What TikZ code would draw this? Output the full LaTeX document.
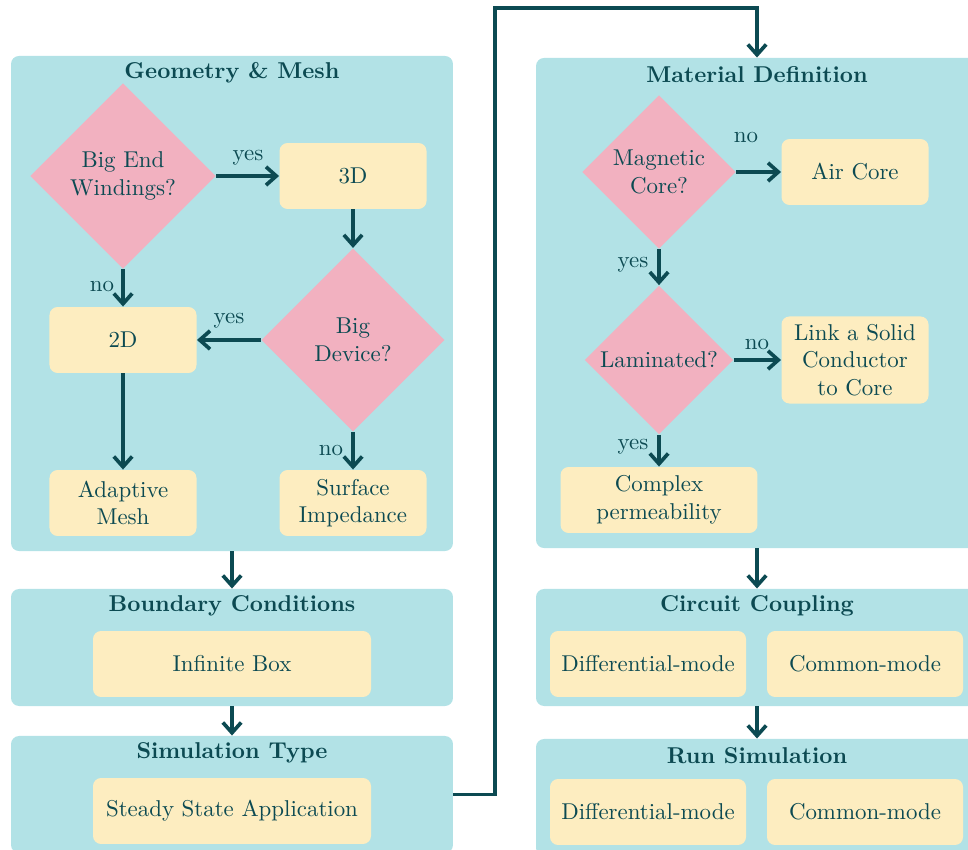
\documentclass[tikz,border=0pt]{standalone}
\usetikzlibrary{shapes.geometric,arrows.meta,positioning}
\definecolor{panelcol}{HTML}{B2E2E6}
\definecolor{askcol}{HTML}{F2B1C0}
\definecolor{boxcol}{HTML}{FDEDC0}
\definecolor{inkcol}{HTML}{0C4A52}

\begin{document}
\begin{tikzpicture}
[x=0.4367pt, y=-0.4367pt, every node/.style={text=inkcol},
 panel/.style={fill=panelcol, rounded corners=3.5pt, minimum width=193pt},
 ptitle/.style={font=\bfseries},
 choice/.style={fill=boxcol, rounded corners=3.5pt, minimum width=64.2pt, minimum height=28.8pt, align=center, inner sep=1pt},
 ask/.style={diamond, fill=askcol, align=center, inner sep=0pt},
 arr/.style={-{Straight Barb[length=4.5pt,width=8pt]}, draw=inkcol, line width=1.6pt},
 lbl/.style={inner sep=1pt}]
\path[use as bounding box, clip] (0,0) rectangle (968,850);

% geometry
\node[panel, minimum height=216.2pt] (geo) at (232,303.5) {};
\node[ptitle] (geoT) at (232,73) {Geometry \& Mesh};
\node[ask, minimum size=81pt] (bew) at (123,176) {Big End\\Windings?};
\node[choice] (d3) at (353,176) {3D};
\node[ask, minimum size=80pt] (bdev) at (353,340) {Big\\Device?};
\node[choice] (d2) at (123,340) {2D};
\node[choice] (amesh) at (123,503) {Adaptive\\Mesh};
\node[choice] (simp) at (353,503) {Surface\\Impedance};

\node[panel, minimum height=51.1pt] (bc) at (232,647.5) {};
\node[ptitle] (bcT) at (232,606) {Boundary Conditions};
\node[choice, minimum width=121.4pt] (ibox) at (232,664) {Infinite Box};

\node[panel, minimum height=51.1pt] (sim) at (232,794.5) {};
\node[ptitle] (simT) at (232,753) {Simulation Type};
\node[choice, minimum width=121.4pt] (ssa) at (232,811) {Steady State Application};

% material
\node[panel, minimum height=214pt] (mat) at (757,303) {};
\node[ptitle] (matT) at (757,75) {Material Definition};
\node[ask, minimum size=67pt] (mcore) at (659,172) {Magnetic\\Core?};
\node[choice] (air) at (855,172) {Air Core};
\node[ask, minimum size=65pt] (lam) at (659,360) {Laminated?};
\node[choice, minimum height=38pt] (link) at (855,360) {Link a Solid\\Conductor\\to Core};
\node[choice, minimum width=86pt] (cperm) at (659,500) {Complex\\permeability};

\node[panel, minimum height=51.1pt] (circ) at (757,647.5) {};
\node[ptitle] (circT) at (757,606) {Circuit Coupling};
\node[choice, minimum width=85.6pt] (cdm) at (648,664) {Differential-mode};
\node[choice, minimum width=85.6pt] (ccm) at (865,664) {Common-mode};

\node[panel, minimum height=51.1pt] (run) at (757,797.5) {};
\node[ptitle] (runT) at (757,756) {Run Simulation};
\node[choice, minimum width=85.6pt] (rdm) at (648,812) {Differential-mode};
\node[choice, minimum width=85.6pt] (rcm) at (865,812) {Common-mode};

% connectors
\draw[arr] (bew) -- (d3);
\draw[arr] (bew) -- (d2);
\draw[arr] (d3) -- (bdev);
\draw[arr] (bdev) -- (d2);
\draw[arr] (d2) -- (amesh);
\draw[arr] (bdev) -- (simp);
\draw[arr] (geo) -- (bc);
\draw[arr] (bc) -- (sim);
\coordinate (turn) at (495,8);
\draw[arr] (sim.east) -| (turn) -| (mat.north);
\draw[arr] (mcore) -- (air);
\draw[arr] (mcore) -- (lam);
\draw[arr] (lam) -- (link);
\draw[arr] (lam) -- (cperm);
\draw[arr] (mat) -- (circ);
\draw[arr] (circ) -- (run);

% labels
\node[lbl] (y1) at (248,158) {yes};
\node[lbl] (n1) at (102,287) {no};
\node[lbl] (y2) at (229,321) {yes};
\node[lbl] (n2) at (331,450) {no};
\node[lbl] (n3) at (746,138) {no};
\node[lbl] (y3) at (633,265) {yes};
\node[lbl] (n4) at (757,344) {no};
\node[lbl] (y4) at (633,447) {yes};
\end{tikzpicture}
\end{document}
